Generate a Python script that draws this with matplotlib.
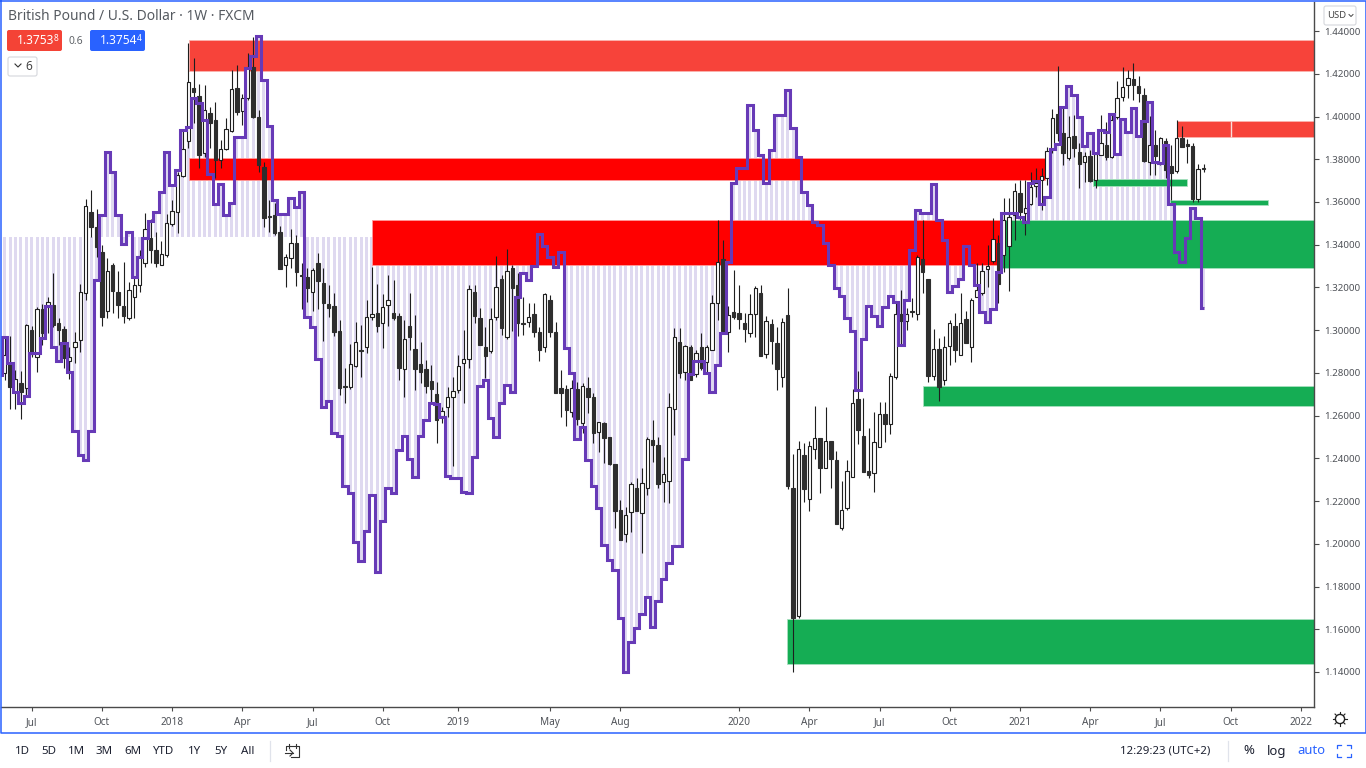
import numpy as np
import matplotlib
matplotlib.use("Agg")
import matplotlib.pyplot as plt
from matplotlib.patches import Rectangle, FancyBboxPatch, Circle

# weekly GBP/USD candles, first bar is week -6 counted from Jul 2017
first_week = -6

opens = [
    1.2954, 1.2799, 1.2842, 1.2710, 1.2753, 1.2729, 1.3001, 1.2875, 1.3099, 1.3108,
    1.3118, 1.3033, 1.3005, 1.2856, 1.2921, 1.2954, 1.3174, 1.3553, 1.3483, 1.3366,
    1.3090, 1.3305, 1.3178, 1.3113, 1.3057, 1.3155, 1.3211, 1.3314, 1.3431, 1.3375,
    1.3305, 1.3352, 1.3497, 1.3553, 1.3721, 1.3885, 1.4133, 1.4096, 1.3829, 1.4016,
    1.3983, 1.3796, 1.3848, 1.3932, 1.4133, 1.4026, 1.4086, 1.4231, 1.3997, 1.3763,
    1.3534, 1.3539, 1.3459, 1.3305, 1.3338, 1.3408, 1.3258, 1.3249, 1.3178, 1.3314,
    1.3221, 1.3122, 1.3113, 1.2996, 1.2739, 1.2734, 1.2832, 1.2907, 1.2921, 1.3062,
    1.3080, 1.3033, 1.3118, 1.3080, 1.3066, 1.2818, 1.3019, 1.2912, 1.2842, 1.2818,
    1.2762, 1.2701, 1.2598, 1.2640, 1.2687, 1.2720, 1.2846, 1.2865, 1.3178, 1.3057,
    1.2921, 1.2903, 1.3062, 1.3239, 1.2968, 1.3291, 1.3211, 1.3033, 1.3038, 1.3076,
    1.2991, 1.2921, 1.3141, 1.2991, 1.2729, 1.2725, 1.2617, 1.2725, 1.2565, 1.2729,
    1.2687, 1.2523, 1.2565, 1.2500, 1.2373, 1.2158, 1.2046, 1.2149, 1.2261, 1.2144,
    1.2261, 1.2486, 1.2462, 1.2289, 1.2294, 1.2631, 1.2944, 1.2804, 1.2921, 1.2795,
    1.2921, 1.2851, 1.2907, 1.3127, 1.3333, 1.2991, 1.3085, 1.3080, 1.3033, 1.2987,
    1.3076, 1.3174, 1.2889, 1.3029, 1.2940, 1.2781, 1.3071, 1.2261, 1.1662, 1.2416,
    1.2210, 1.2444, 1.2495, 1.2355, 1.2481, 1.2392, 1.2074, 1.2168, 1.2313, 1.2678,
    1.2505, 1.2341, 1.2331, 1.2453, 1.2607, 1.2561, 1.2781, 1.3076, 1.3043, 1.3087,
    1.3076, 1.3333, 1.3239, 1.2785, 1.2912, 1.2767, 1.2926, 1.3019, 1.2884, 1.3052,
    1.2921, 1.3155, 1.3174, 1.3286, 1.3324, 1.3408, 1.3352, 1.3394, 1.3539, 1.3642,
    1.3548, 1.3590, 1.3675, 1.3703, 1.3712, 1.3848, 1.4011, 1.3923, 1.3806, 1.3909,
    1.3834, 1.3787, 1.3815, 1.3703, 1.3820, 1.3866, 1.3810, 1.3997, 1.4091, 1.4147,
    1.4175, 1.4143, 1.4100, 1.3787, 1.3866, 1.3782, 1.3885, 1.3768, 1.3745, 1.3899,
    1.3868, 1.3862, 1.3614, 1.3755,
]
highs = [
    1.2987, 1.2968, 1.2973, 1.2813, 1.2809, 1.3029, 1.3019, 1.3108, 1.3122, 1.3155,
    1.3267, 1.3057, 1.3019, 1.2921, 1.2991, 1.3215, 1.3614, 1.3656, 1.3567, 1.3399,
    1.3338, 1.3314, 1.3277, 1.3319, 1.3225, 1.3249, 1.3375, 1.3548, 1.3520, 1.3459,
    1.3417, 1.3543, 1.3609, 1.3740, 1.3937, 1.4344, 1.4274, 1.4152, 1.4147, 1.4044,
    1.4068, 1.3890, 1.3993, 1.4217, 1.4241, 1.4105, 1.4297, 1.4372, 1.4030, 1.3787,
    1.3609, 1.3595, 1.3487, 1.3356, 1.3473, 1.3445, 1.3314, 1.3291, 1.3291, 1.3361,
    1.3291, 1.3211, 1.3174, 1.3047, 1.2823, 1.2935, 1.3038, 1.3024, 1.3141, 1.3295,
    1.3216, 1.3169, 1.3258, 1.3235, 1.3080, 1.3047, 1.3174, 1.3071, 1.2944, 1.2860,
    1.2837, 1.2757, 1.2640, 1.2734, 1.2781, 1.2884, 1.3001, 1.3211, 1.3211, 1.3104,
    1.3015, 1.3104, 1.3347, 1.3258, 1.3380, 1.3305, 1.3267, 1.3155, 1.3127, 1.3127,
    1.3015, 1.3174, 1.3164, 1.3038, 1.2813, 1.2743, 1.2767, 1.2757, 1.2753, 1.2781,
    1.2706, 1.2570, 1.2570, 1.2500, 1.2373, 1.2205, 1.2172, 1.2289, 1.2308, 1.2355,
    1.2500, 1.2579, 1.2500, 1.2406, 1.2706, 1.3010, 1.3010, 1.2930, 1.2930, 1.2907,
    1.2987, 1.2930, 1.3164, 1.3515, 1.3422, 1.3113, 1.3281, 1.3211, 1.3080, 1.3169,
    1.3207, 1.3211, 1.3066, 1.3052, 1.3015, 1.3057, 1.3197, 1.2420, 1.2481, 1.2472,
    1.2481, 1.2645, 1.2495, 1.2640, 1.2481, 1.2434, 1.2294, 1.2392, 1.2725, 1.2809,
    1.2682, 1.2542, 1.2617, 1.2664, 1.2664, 1.2799, 1.3127, 1.3188, 1.3104, 1.3150,
    1.3352, 1.3515, 1.3239, 1.3005, 1.2963, 1.2973, 1.3047, 1.3080, 1.3174, 1.3090,
    1.3150, 1.3314, 1.3314, 1.3398, 1.3525, 1.3445, 1.3618, 1.3618, 1.3689, 1.3703,
    1.3703, 1.3740, 1.3759, 1.3759, 1.3857, 1.4035, 1.4236, 1.4044, 1.4002, 1.4007,
    1.3876, 1.3834, 1.3843, 1.3829, 1.4007, 1.3974, 1.4007, 1.4166, 1.4231, 1.4217,
    1.4250, 1.4189, 1.4133, 1.4002, 1.3937, 1.3904, 1.3899, 1.3866, 1.3983, 1.3955,
    1.3894, 1.3876, 1.3778, 1.3778,
]
lows = [
    1.2790, 1.2767, 1.2631, 1.2631, 1.2584, 1.2696, 1.2875, 1.2804, 1.2930, 1.2987,
    1.3015, 1.2930, 1.2823, 1.2771, 1.2846, 1.2898, 1.3141, 1.3436, 1.3342, 1.3019,
    1.3057, 1.3080, 1.3057, 1.3033, 1.3047, 1.3057, 1.3178, 1.3295, 1.3314, 1.3295,
    1.3305, 1.3342, 1.3487, 1.3455, 1.3717, 1.3852, 1.3969, 1.3759, 1.3810, 1.3852,
    1.3712, 1.3759, 1.3843, 1.3927, 1.4007, 1.3960, 1.4077, 1.3993, 1.3740, 1.3483,
    1.3459, 1.3445, 1.3286, 1.3202, 1.3291, 1.3207, 1.3099, 1.3132, 1.3090, 1.3099,
    1.2949, 1.3062, 1.2973, 1.2696, 1.2659, 1.2725, 1.2827, 1.2781, 1.2893, 1.3047,
    1.2991, 1.2916, 1.3019, 1.3047, 1.2767, 1.2687, 1.2907, 1.2720, 1.2753, 1.2706,
    1.2659, 1.2472, 1.2565, 1.2593, 1.2364, 1.2706, 1.2659, 1.2823, 1.3033, 1.2930,
    1.2776, 1.2893, 1.3047, 1.2977, 1.2958, 1.2996, 1.2973, 1.2977, 1.3015, 1.2968,
    1.2856, 1.2898, 1.2968, 1.2706, 1.2593, 1.2551, 1.2593, 1.2556, 1.2519, 1.2612,
    1.2472, 1.2430, 1.2378, 1.2369, 1.2074, 1.2018, 1.2009, 1.2055, 1.2153, 1.1957,
    1.2228, 1.2383, 1.2261, 1.2196, 1.2191, 1.2509, 1.2776, 1.2767, 1.2767, 1.2781,
    1.2813, 1.2799, 1.2907, 1.3047, 1.2991, 1.2898, 1.3052, 1.3005, 1.2944, 1.2968,
    1.2968, 1.2879, 1.2870, 1.2842, 1.2720, 1.2734, 1.2257, 1.1400, 1.1653, 1.2196,
    1.2153, 1.2397, 1.2238, 1.2355, 1.2261, 1.2093, 1.2065, 1.2158, 1.2313, 1.2467,
    1.2336, 1.2308, 1.2243, 1.2453, 1.2476, 1.2514, 1.2771, 1.2930, 1.3001, 1.3062,
    1.3047, 1.3174, 1.2757, 1.2767, 1.2668, 1.2743, 1.2837, 1.2851, 1.2884, 1.2940,
    1.2851, 1.3155, 1.3164, 1.3202, 1.3314, 1.3127, 1.3272, 1.3183, 1.3422, 1.3515,
    1.3445, 1.3585, 1.3623, 1.3562, 1.3679, 1.3829, 1.3885, 1.3773, 1.3796, 1.3810,
    1.3665, 1.3693, 1.3693, 1.3665, 1.3820, 1.3796, 1.3806, 1.3988, 1.4072, 1.4086,
    1.4077, 1.4068, 1.3787, 1.3726, 1.3726, 1.3773, 1.3712, 1.3609, 1.3735, 1.3857,
    1.3782, 1.3600, 1.3600, 1.3740,
]
closes = [
    1.2837, 1.2884, 1.2734, 1.2771, 1.2710, 1.3024, 1.2889, 1.3099, 1.2987, 1.3132,
    1.3024, 1.3001, 1.2870, 1.2875, 1.2944, 1.3178, 1.3581, 1.3483, 1.3389, 1.3062,
    1.3277, 1.3183, 1.3118, 1.3066, 1.3188, 1.3211, 1.3347, 1.3473, 1.3375, 1.3314,
    1.3356, 1.3501, 1.3558, 1.3726, 1.3848, 1.4161, 1.4114, 1.3820, 1.4030, 1.3969,
    1.3796, 1.3848, 1.3941, 1.4128, 1.4021, 1.4086, 1.4227, 1.3997, 1.3773, 1.3525,
    1.3529, 1.3455, 1.3286, 1.3342, 1.3408, 1.3272, 1.3254, 1.3197, 1.3281, 1.3230,
    1.3127, 1.3104, 1.2991, 1.2729, 1.2734, 1.2842, 1.2944, 1.2903, 1.3062, 1.3076,
    1.3019, 1.3108, 1.3141, 1.3057, 1.2823, 1.2958, 1.2968, 1.2818, 1.2804, 1.2739,
    1.2725, 1.2579, 1.2622, 1.2687, 1.2715, 1.2832, 1.2865, 1.3192, 1.3066, 1.2930,
    1.2879, 1.3052, 1.3202, 1.3010, 1.3277, 1.3197, 1.3033, 1.3029, 1.3062, 1.2991,
    1.2907, 1.3169, 1.2991, 1.2706, 1.2706, 1.2626, 1.2729, 1.2584, 1.2739, 1.2687,
    1.2519, 1.2570, 1.2495, 1.2373, 1.2153, 1.2018, 1.2135, 1.2280, 1.2153, 1.2285,
    1.2490, 1.2462, 1.2280, 1.2327, 1.2640, 1.2968, 1.2799, 1.2926, 1.2767, 1.2893,
    1.2823, 1.2921, 1.3127, 1.3319, 1.2996, 1.3071, 1.3062, 1.3052, 1.3005, 1.3076,
    1.3197, 1.2879, 1.3043, 1.2949, 1.2818, 1.3038, 1.2271, 1.1653, 1.2444, 1.2257,
    1.2458, 1.2495, 1.2355, 1.2481, 1.2397, 1.2093, 1.2158, 1.2341, 1.2659, 1.2533,
    1.2336, 1.2322, 1.2476, 1.2607, 1.2561, 1.2785, 1.3076, 1.3043, 1.3076, 1.3083,
    1.3342, 1.3272, 1.2785, 1.2912, 1.2734, 1.2921, 1.3033, 1.2907, 1.3033, 1.2940,
    1.3141, 1.3188, 1.3277, 1.3300, 1.3426, 1.3216, 1.3515, 1.3529, 1.3651, 1.3553,
    1.3572, 1.3670, 1.3689, 1.3721, 1.3838, 1.3993, 1.3923, 1.3829, 1.3904, 1.3852,
    1.3778, 1.3815, 1.3698, 1.3824, 1.3876, 1.3810, 1.3983, 1.4086, 1.4138, 1.4180,
    1.4147, 1.4110, 1.3792, 1.3866, 1.3815, 1.3899, 1.3749, 1.3735, 1.3899, 1.3857,
    1.3864, 1.3614, 1.3754, 1.3754,
]

# purple line, one value per week, same start as the candles
line_values = [
    1.2791, 1.2967, 1.2847, 1.2711, 1.2660, 1.2692, 1.2892, 1.2892, 1.2963, 1.3112,
    1.2920, 1.2855, 1.2939, 1.2805, 1.2530, 1.2414, 1.2391, 1.2526, 1.3233, 1.3537,
    1.3832, 1.3741, 1.3537, 1.3405, 1.3461, 1.3250, 1.3344, 1.3433, 1.3512, 1.3554,
    1.3646, 1.3834, 1.3681, 1.3750, 1.3937, 1.3951, 1.4086, 1.4063, 1.3983, 1.3732,
    1.3590, 1.3683, 1.3539, 1.3594, 1.3902, 1.3902, 1.4227, 1.4283, 1.4377, 1.4171,
    1.3955, 1.3610, 1.3544, 1.3544, 1.3619, 1.3577, 1.3647, 1.3060, 1.3013, 1.2867,
    1.2638, 1.2666, 1.2517, 1.2503, 1.2269, 1.2236, 1.2007, 1.1918, 1.2060, 1.2230,
    1.1870, 1.2107, 1.2262, 1.2238, 1.2438, 1.2504, 1.2397, 1.2313, 1.2503, 1.2578,
    1.2660, 1.2655, 1.2595, 1.2317, 1.2308, 1.2308, 1.2243, 1.2238, 1.2406, 1.2739,
    1.2767, 1.2590, 1.2498, 1.2660, 1.2743, 1.2711, 1.3155, 1.3267, 1.3234, 1.3300,
    1.3450, 1.3394, 1.3342, 1.3295, 1.3366, 1.2917, 1.2800, 1.2491, 1.2547, 1.2392,
    1.2271, 1.2168, 1.1995, 1.1925, 1.1878, 1.1654, 1.1400, 1.1541, 1.1607, 1.1672,
    1.1752, 1.1612, 1.1733, 1.1836, 1.1911, 1.1991, 1.1991, 1.2397, 1.2795, 1.2856,
    1.2856, 1.2800, 1.2711, 1.2837, 1.2987, 1.3319, 1.3689, 1.3759, 1.3759, 1.4054,
    1.3937, 1.3820, 1.3689, 1.3843, 1.4007, 1.4007, 1.4124, 1.3946, 1.3811, 1.3647,
    1.3586, 1.3506, 1.3492, 1.3408, 1.3305, 1.3197, 1.3160, 1.3057, 1.2996, 1.2720,
    1.2958, 1.3112, 1.3066, 1.3019, 1.3108, 1.3160, 1.3132, 1.2931, 1.3141, 1.3375,
    1.3563, 1.3549, 1.3549, 1.3684, 1.3516, 1.3422, 1.3179, 1.3207, 1.3239, 1.3394,
    1.3305, 1.3211, 1.3085, 1.3038, 1.3099, 1.3272, 1.3549, 1.3549, 1.3549, 1.3530,
    1.3506, 1.3689, 1.3698, 1.3590, 1.3623, 1.3848, 1.3871, 1.4044, 1.4143, 1.4100,
    1.3998, 1.3862, 1.3923, 1.3829, 1.3937, 1.3927, 1.4012, 1.3824, 1.3988, 1.3927,
    1.4040, 1.3909, 1.3979, 1.4068, 1.3787, 1.3782, 1.3866, 1.3590, 1.3366, 1.3319,
    1.3431, 1.3572, 1.3525, 1.3104,
]
baseline = 1.3436

# zones: start week, end week, top price, bottom price
red_zones = [(29.2, 237.5, 1.4357, 1.4213), (212.1, 237.5, 1.3979, 1.3904)]
strong_red_zones = [(29.2, 187.6, 1.3805, 1.3703), (63.0, 179.3, 1.3515, 1.3305)]
green_zones = [
    (179.3, 237.5, 1.3515, 1.3291),
    (165.1, 237.5, 1.2738, 1.2645),
    (139.9, 237.5, 1.1648, 1.1438),
    (196.5, 213.9, 1.3707, 1.3675),
    (210.8, 229.0, 1.3609, 1.3586),
]

price_ticks = [1.14, 1.16, 1.18, 1.20, 1.22, 1.24, 1.26, 1.28, 1.30, 1.32, 1.34, 1.36, 1.38, 1.40, 1.42, 1.44]
time_ticks = [0, 13, 26, 39, 52, 65, 79, 96, 109, 131, 144, 157, 170, 183, 196, 209, 222, 235]
time_labels = ["Jul", "Oct", "2018", "Apr", "Jul", "Oct", "2019", "May", "Aug", "2020",
               "Apr", "Jul", "Oct", "2021", "Apr", "Jul", "Oct", "2022"]
range_labels = ["1D", "5D", "1M", "3M", "6M", "YTD", "1Y", "5Y", "All"]
range_pos = [22, 49, 77, 104, 133, 164, 195, 221, 248]

plt.rcParams["font.family"] = ["Noto Sans", "DejaVu Sans"]
W, H = 1366, 768
fig = plt.figure(figsize=(W / 100, H / 100), dpi=100, facecolor="white")

# chart panel from pixel 1..1314 across and 2..707 down
ax = fig.add_axes([1 / W, 1 - 707 / H, 1313 / W, 705 / H])
ax.set_xlim(-5.685, 237.46)
ax.set_ylim(1.1236, 1.4536)

weeks = np.arange(len(closes)) + first_week
o = np.array(opens)
h = np.array(highs)
l = np.array(lows)
c = np.array(closes)
line = np.array(line_values)

# lavender stripes from the line to the baseline
ax.bar(weeks, line - baseline, bottom=baseline, width=0.56, color="#dfd9f0", linewidth=0, zorder=1)

for x0, x1, top, bot in red_zones:
    ax.add_patch(Rectangle((x0, bot), x1 - x0, top - bot, fc="#f7433a", ec="#fbb4ae", lw=0.6, zorder=2))
for x0, x1, top, bot in strong_red_zones:
    ax.add_patch(Rectangle((x0, bot), x1 - x0, top - bot, fc="#ff0000", ec="#ff9a9a", lw=0.6, zorder=2))
for x0, x1, top, bot in green_zones:
    ax.add_patch(Rectangle((x0, bot), x1 - x0, top - bot, fc="#15ad54", ec="#a8e0bf", lw=0.6, zorder=2))
ax.vlines(222, 1.3904, 1.3979, color="#fbdcd9", lw=1.0, zorder=2.5)

# candles
up = c >= o
ax.vlines(weeks, l, h, color="#1e1e1e", lw=0.8, zorder=3)
body = np.maximum(np.abs(c - o), 0.0006)
ax.bar(weeks[up], body[up], bottom=np.minimum(o, c)[up], width=0.66, color="white",
       edgecolor="#1e1e1e", linewidth=0.8, zorder=3.1)
ax.bar(weeks[~up], body[~up], bottom=np.minimum(o, c)[~up], width=0.66, color="#2e2e2e",
       edgecolor="#2e2e2e", linewidth=0.8, zorder=3.1)

ax.step(weeks, line, where="mid", color="#673ab7", lw=2.2, zorder=4,
        solid_joinstyle="miter", solid_capstyle="butt")

for side in ["top", "left"]:
    ax.spines[side].set_visible(False)
ax.spines["right"].set_color("#4a4a4a")
ax.spines["bottom"].set_color("#4a4a4a")
ax.spines["right"].set_linewidth(1.0)
ax.spines["bottom"].set_linewidth(1.0)

ax.yaxis.tick_right()
ax.set_yticks(price_ticks)
ax.set_yticklabels([f"{p:.5f}" for p in price_ticks], fontsize=7.0, color="#4f5258")
ax.tick_params(axis="y", length=3.5, width=0.8, color="#4a4a4a", pad=4)
ax.set_xticks(time_ticks)
ax.set_xticklabels(time_labels, fontsize=7.2, color="#4f5258")
ax.tick_params(axis="x", length=3, width=0.8, color="#4a4a4a", pad=4)
for lab in ax.get_xticklabels():
    if lab.get_text().startswith("20"):
        lab.set_fontweight("bold")

# interface parts, drawn in pixel coordinates
ui = fig.add_axes([0, 0, 1, 1], facecolor="none")
ui.set_xlim(0, W)
ui.set_ylim(H, 0)
ui.axis("off")

ui.plot([0.5, 0.5, W - 0.5, W - 0.5, 0.5], [1, 733, 733, 1, 1], color="#2962ff", lw=1.1)

ui.text(8, 16, "British Pound / U.S. Dollar · 1W · FXCM", fontsize=9.9, color="#555a60", va="center")


def price_badge(x0, x1, color, main, small):
    ui.add_patch(FancyBboxPatch((x0 + 2, 32), x1 - x0 - 4, 17, boxstyle="round,pad=2,rounding_size=2",
                                fc=color, ec="none"))
    ui.text(x1 - 8, 40.5, main, fontsize=8.6, color="white", fontweight="bold", va="center", ha="right")
    ui.text(x1 - 8, 38.5, small, fontsize=6.0, color="white", fontweight="bold", va="center", ha="left")


price_badge(7, 62, "#f44336", "1.3753", "8")
price_badge(90, 145, "#2962ff", "1.3754", "4")
ui.text(76, 41, "0.6", fontsize=7.4, color="#5f6368", va="center", ha="center")

ui.add_patch(FancyBboxPatch((10, 59), 25, 15, boxstyle="round,pad=2,rounding_size=2", fc="white", ec="#d5d7dc", lw=0.8))
ui.plot([15, 18, 21], [64, 67, 64], color="#333333", lw=0.8)
ui.text(29, 66, "6", fontsize=8.6, color="#444444", va="center", ha="center")

ui.add_patch(FancyBboxPatch((1326, 8), 28, 15, boxstyle="round,pad=2,rounding_size=2", fc="white", ec="#d5d7dc", lw=0.8))
ui.text(1337, 16, "USD", fontsize=6.8, color="#444444", va="center", ha="center")
ui.plot([1349, 1351, 1353], [14.5, 16.5, 14.5], color="#444444", lw=0.7)

for lab, x in zip(range_labels, range_pos):
    ui.text(x, 751, lab, fontsize=8.3, color="#1c2030", va="center", ha="center")
ui.plot([270, 270], [741, 761], color="#e0e3eb", lw=0.9)

# go-to-date icon
ui.plot([286, 286, 299, 299, 291], [750, 746, 746, 757, 757], color="#333333", lw=0.8)
ui.plot([289, 289], [744, 748], color="#333333", lw=0.8)
ui.plot([296, 296], [744, 748], color="#333333", lw=0.8)
ui.plot([285, 293], [753, 753], color="#333333", lw=0.8)
ui.plot([290, 293, 290], [750, 753, 756], color="#333333", lw=0.8)

ui.text(1165, 751, "12:29:23 (UTC+2)", fontsize=8.2, color="#1c2030", va="center", ha="center")
ui.plot([1228, 1228], [741, 761], color="#e0e3eb", lw=0.9)
ui.text(1249, 751, "%", fontsize=9.4, color="#1c2030", va="center", ha="center")
ui.text(1277, 751, "log", fontsize=9.4, color="#1c2030", va="center", ha="center")
ui.text(1311, 751, "auto", fontsize=9.4, color="#2962ff", va="center", ha="center")

# fullscreen corners
for cx, cy, dx, dy in [(1337, 745, 1, 1), (1351, 745, -1, 1), (1337, 757, 1, -1), (1351, 757, -1, -1)]:
    ui.plot([cx + 4 * dx, cx, cx], [cy, cy, cy + 3 * dy], color="#2962ff", lw=0.9)

# settings icon
ui.add_patch(Circle((1340, 719), 4.6, fc="none", ec="#222222", lw=1.0))
for a in np.arange(0, 360, 45):
    r = np.deg2rad(a)
    ui.plot([1340 + 5 * np.cos(r), 1340 + 7 * np.cos(r)], [719 + 5 * np.sin(r), 719 + 7 * np.sin(r)],
            color="#222222", lw=0.8)

fig.savefig("out.png", dpi=100)
